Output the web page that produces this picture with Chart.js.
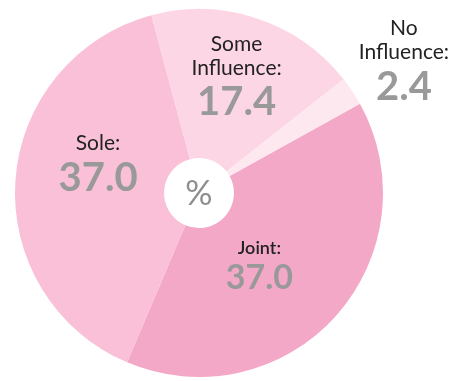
<!doctype html>
<html>
<head>
<meta charset="utf-8">
<title>Influence pie</title>
<script src="https://cdn.jsdelivr.net/npm/chart.js"></script>
<style>
  html, body { margin: 0; padding: 0; background: #fff; }
  #wrap { width: 467px; height: 381px; position: relative; }
</style>
</head>
<body>
<div id="wrap"><canvas id="pie"></canvas></div>
<script>
// data, clockwise starting from Joint
const categories = ['Joint:', 'Sole:', 'Some|Influence:', 'No|Influence:'];
const shares = [37.0, 37.0, 17.4, 2.4];
const valueLabels = ['37.0', '37.0', '17.4', '2.4'];
const centerLabel = '%';

const sliceColors = ['#f4a8c7', '#f9c0d7', '#fdd6e5', '#fde8f0'];

// where each label block sits: angle nudge from slice middle (deg), distance as share of radius
const labelPlace = [
  { dAngle: 7, frac: 0.50, labelFont: '600 18px Lato', valueFont: 'bold 34px Lato', gap: 29 },
  { dAngle: 14, frac: 0.577, labelFont: '400 21px Lato', valueFont: 'bold 40px Lato', gap: 33 },
  { dAngle: -1, frac: 0.683, labelFont: '400 21px Lato', valueFont: 'bold 40px Lato', gap: 33 },
  { dAngle: 0, frac: 1.337, labelFont: '400 21px Lato', valueFont: 'bold 40px Lato', gap: 34 }
];

const sliceLabels = {
  id: 'sliceLabels',
  afterDraw(chart) {
    const ctx = chart.ctx;
    const arcs = chart.getDatasetMeta(0).data;
    ctx.save();
    ctx.textAlign = 'center';
    ctx.textBaseline = 'middle';
    arcs.forEach((arc, i) => {
      const p = arc.getProps(['startAngle', 'endAngle', 'x', 'y', 'outerRadius'], true);
      const pl = labelPlace[i];
      const a = (p.startAngle + p.endAngle) / 2 + pl.dAngle * Math.PI / 180;
      const ax = p.x + Math.cos(a) * p.outerRadius * pl.frac;
      const ay = p.y + Math.sin(a) * p.outerRadius * pl.frac;
      const lines = categories[i].split('|');
      const total = (lines.length - 1) * 24 + pl.gap;
      let y = ay - total / 2;
      ctx.fillStyle = '#222';
      ctx.font = pl.labelFont;
      lines.forEach((ln, k) => {
        ctx.fillText(ln, ax, y);
        if (k < lines.length - 1) y += 24;
      });
      y += pl.gap;
      ctx.fillStyle = '#999';
      ctx.font = pl.valueFont;
      ctx.fillText(valueLabels[i], ax, y + 1);
    });
    // centre mark
    const c = arcs[0].getProps(['x', 'y'], true);
    ctx.fillStyle = '#8e8e8e';
    ctx.font = '400 34px Lato';
    ctx.fillText(centerLabel, c.x, c.y + 1);
    ctx.restore();
  }
};

new Chart(document.getElementById('pie'), {
  type: 'doughnut',
  data: {
    labels: categories.map(c => c.replace('|', ' ')),
    datasets: [{
      data: shares,
      backgroundColor: sliceColors,
      borderWidth: 0
    }]
  },
  options: {
    responsive: true,
    maintainAspectRatio: false,
    animation: false,
    rotation: 61,
    cutout: '19%',
    layout: { padding: { left: 15, right: 84, top: 9, bottom: 4 } },
    plugins: {
      legend: { display: false },
      tooltip: { enabled: false }
    }
  },
  plugins: [sliceLabels]
});
</script>
</body>
</html>
